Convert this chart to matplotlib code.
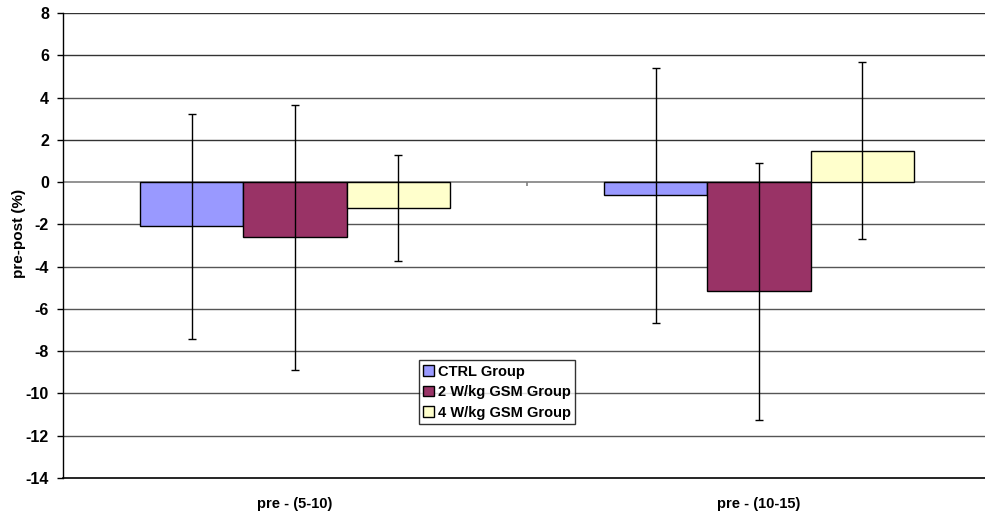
import numpy as np
import matplotlib.pyplot as plt

categories = ['pre - (5-10)', 'pre - (10-15)']
groups = ['CTRL Group', '2 W/kg GSM Group', '4 W/kg GSM Group']
means = {
    'CTRL Group': [-2.1, -0.63],
    '2 W/kg GSM Group': [-2.6, -5.17],
    '4 W/kg GSM Group': [-1.23, 1.49],
}
errors = {
    'CTRL Group': [5.3, 6.04],
    '2 W/kg GSM Group': [6.27, 6.08],
    '4 W/kg GSM Group': [2.5, 4.17],
}
colors = ['#9999FF', '#993366', '#FFFFCC']
yticks = list(range(-14, 9, 2))

plt.rcParams['font.family'] = ['Liberation Sans', 'DejaVu Sans']
plt.rcParams['font.weight'] = 'bold'

fig = plt.figure(figsize=(9.85, 5.14), dpi=100)
ax = fig.add_axes([63 / 985, 1 - 478 / 514, 928 / 985, 465 / 514])

x = np.arange(len(categories))
width = 0.222
for i, (g, c) in enumerate(zip(groups, colors)):
    pos = x + (i - 1) * width
    ax.bar(pos, means[g], width, color=c, edgecolor='black', linewidth=1,
           label=g, zorder=3)
    ax.errorbar(pos, means[g], yerr=errors[g], fmt='none', ecolor='black',
                elinewidth=1, capsize=3, capthick=1, zorder=4)

ax.set_xlim(-0.5, 1.5)
ax.set_ylim(-14, 8)
ax.set_yticks(yticks)
ax.set_yticklabels([str(t) for t in yticks], fontsize=11.5, fontweight='bold')
ax.set_xticks(x)
ax.set_xticklabels(categories, fontsize=10.5, fontweight='bold')
ax.tick_params(axis='x', length=0, pad=14)
ax.tick_params(axis='y', length=4, width=1, color='black', pad=6)

for t in yticks:
    if t == 0:
        ax.axhline(t, color='#808080', linewidth=1.2, zorder=1)
    elif t != -14:
        ax.axhline(t, color='#333333' if t in (8, 6, 2) else '#555555',
                   linewidth=1, zorder=1)
# category boundary tick on the zero axis
ax.vlines(0.5, -0.2, 0, color='#808080', linewidth=1.2, zorder=2)

for s in ['top', 'right']:
    ax.spines[s].set_visible(False)
ax.spines['left'].set_linewidth(1)
ax.spines['bottom'].set_linewidth(1.2)

ax.set_ylabel('pre-post (%)', fontsize=11, fontweight='bold', labelpad=2)
ax.yaxis.set_label_coords(-17 / 928 * 2.2, 0.525)

leg = ax.legend(loc='lower left', bbox_to_anchor=(0.3836, 0.116), fontsize=10.5,
                frameon=True, fancybox=False, edgecolor='black',
                handlelength=0.75, handleheight=0.75, handletextpad=0.25,
                borderpad=0.3, labelspacing=0.45, borderaxespad=0)
leg.get_frame().set_linewidth(1)
for t in leg.get_texts():
    t.set_fontweight('bold')

fig.savefig('out.png', dpi=100, facecolor='white')
